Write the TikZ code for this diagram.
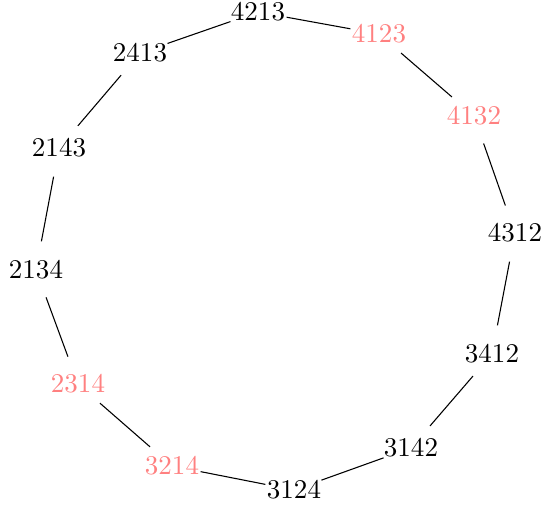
\documentclass[tikz,border=0pt]{standalone}
\begin{document}
\begin{tikzpicture}[x=0.37pt,y=-0.37pt,
  perm/.style={circle,inner sep=0pt},
  hl/.style={perm,text=red!50},
  edge/.style={draw=black,line width=0.4pt}]
\useasboundingbox (0,0) rectangle (543,507);
\node[perm] (a) at (258,12) {4213};
\node[hl] (b) at (379,34) {4123};
\node[hl] (c) at (474,116) {4132};
\node[perm] (d) at (515,233) {4312};
\node[perm] (e) at (492,354) {3412};
\node[perm] (f) at (411,448) {3142};
\node[perm] (g) at (294,490) {3124};
\node[hl] (h) at (172,466) {3214};
\node[hl] (i) at (78,384) {2314};
\node[perm] (j) at (36,270) {2134};
\node[perm] (k) at (59,148) {2143};
\node[perm] (l) at (140,53) {2413};
\draw[edge] (a)--(b) (b)--(c) (c)--(d) (d)--(e) (e)--(f) (f)--(g)
  (g)--(h) (h)--(i) (i)--(j) (j)--(k) (k)--(l) (l)--(a);
\end{tikzpicture}
\end{document}
